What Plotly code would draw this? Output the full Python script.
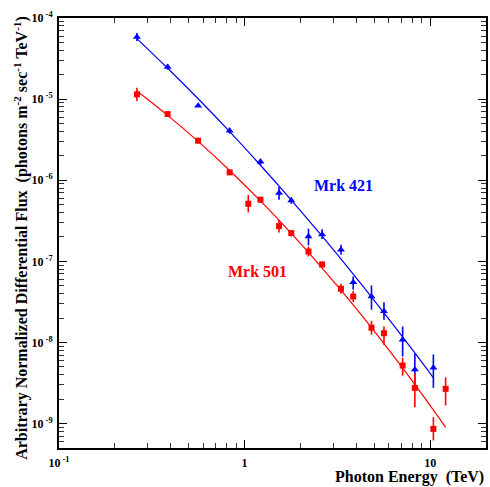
import math
import plotly.graph_objects as go

# ---------------- data ----------------
energy_421 = [0.263, 0.385, 0.562, 0.831, 1.218, 1.534, 1.785, 2.21, 2.617, 3.308,
              3.85, 4.83, 5.64, 7.11, 8.27, 10.41]
flux_421 = [5.83e-5, 2.49e-5, 8.31e-6, 4.08e-6, 1.69e-6, 6.94e-7, 5.64e-7, 2.03e-7,
            2.15e-7, 1.39e-7, 5.54e-8, 3.69e-8, 2.43e-8, 1.08e-8, 4.64e-9, 4.87e-9]
err_up_421 = [0.70e-5, 0.20e-5, 0.3e-6, 0.36e-6, 0.15e-6, 1.29e-7, 0.55e-7, 0.50e-7,
              0.33e-7, 0.21e-7, 0.97e-8, 1.35e-8, 0.71e-8, 0.49e-8, 2.6e-9, 2.24e-9]
err_dn_421 = [0.63e-5, 0.18e-5, 0.3e-6, 0.33e-6, 0.14e-6, 1.19e-7, 0.51e-7, 0.46e-7,
              0.27e-7, 0.18e-7, 1.07e-8, 1.16e-8, 0.53e-8, 0.41e-8, 1.6e-9, 2.11e-9]

energy_501 = [0.263, 0.385, 0.562, 0.831, 1.047, 1.218, 1.534, 1.785, 2.21, 2.617,
              3.308, 3.85, 4.83, 5.64, 7.11, 8.27, 10.41, 12.12]
flux_501 = [1.145e-5, 6.54e-6, 3.07e-6, 1.25e-6, 5.13e-7, 5.75e-7, 2.72e-7, 2.23e-7,
            1.32e-7, 9.15e-8, 4.59e-8, 3.69e-8, 1.52e-8, 1.30e-8, 5.19e-9, 2.76e-9,
            8.6e-10, 2.68e-9]
err_up_501 = [2.4e-6, 0.3e-6, 0.1e-6, 0.05e-6, 1.44e-7, 0.5e-7, 0.53e-7, 0.2e-7,
              0.20e-7, 0.8e-8, 0.70e-8, 0.62e-8, 0.33e-8, 0.27e-8, 1.27e-9, 1.42e-9,
              3.4e-10, 1.05e-9]
err_dn_501 = [2.0e-6, 0.3e-6, 0.1e-6, 0.05e-6, 1.12e-7, 0.5e-7, 0.45e-7, 0.2e-7,
              0.17e-7, 0.7e-8, 0.61e-8, 0.53e-8, 0.27e-8, 0.36e-8, 1.29e-9, 1.17e-9,
              2.4e-10, 1.01e-9]

fit_e_421 = [0.263, 0.385, 0.562, 0.831, 1.218, 1.785, 2.617, 3.85, 5.64, 8.27, 10.41]
fit_f_421 = [5.57e-5, 2.40e-5, 1.01e-5, 3.97e-6, 1.53e-6, 5.70e-7, 2.04e-7, 6.97e-8,
             2.32e-8, 7.43e-9, 3.67e-9]
fit_e_501 = [0.263, 0.385, 0.562, 0.831, 1.218, 1.785, 2.617, 3.85, 5.64, 8.27, 12.12]
fit_f_501 = [1.26e-5, 6.31e-6, 3.01e-6, 1.32e-6, 5.56e-7, 2.21e-7, 8.26e-8, 2.90e-8,
             9.65e-9, 3.04e-9, 9.0e-10]

x_tickvals = [0.1, 1, 10]
x_ticktext = ["10<sup> -1</sup>", "1", "10"]
y_tickvals = [1e-9, 1e-8, 1e-7, 1e-6, 1e-5, 1e-4]
y_ticktext = ["10<sup> -9</sup>", "10<sup> -8</sup>", "10<sup> -7</sup>",
              "10<sup> -6</sup>", "10<sup> -5</sup>", "10<sup> -4</sup>"]

label_421 = ("Mrk 421", 3.43, 8.6e-7)
label_501 = ("Mrk 501", 1.18, 7.5e-8)

BLUE = "#0000ff"
RED = "#ff0000"
FONT = "Liberation Serif"

fig = go.Figure()

fig.add_trace(go.Scatter(x=fit_e_421, y=fit_f_421, mode="lines",
                         line=dict(color=BLUE, width=1.2, shape="spline"),
                         showlegend=False, hoverinfo="skip"))
fig.add_trace(go.Scatter(x=fit_e_501, y=fit_f_501, mode="lines",
                         line=dict(color=RED, width=1.2, shape="spline"),
                         showlegend=False, hoverinfo="skip"))

fig.add_trace(go.Scatter(
    x=energy_421, y=flux_421, mode="markers",
    marker=dict(symbol="triangle-up", size=7, color=BLUE),
    error_y=dict(type="data", symmetric=False, array=err_up_421,
                 arrayminus=err_dn_421, color=BLUE, thickness=1.6, width=0),
    showlegend=False))
fig.add_trace(go.Scatter(
    x=energy_501, y=flux_501, mode="markers",
    marker=dict(symbol="square", size=6, color=RED),
    error_y=dict(type="data", symmetric=False, array=err_up_501,
                 arrayminus=err_dn_501, color=RED, thickness=1.6, width=0),
    showlegend=False))

axis_common = dict(
    type="log", showgrid=False, zeroline=False,
    showline=True, linecolor="black", linewidth=2, mirror="allticks",
    ticks="inside", ticklen=8, tickwidth=1.2, tickcolor="black",
    tickfont=dict(family=FONT, size=12, color="black", weight="bold"),
    minor=dict(ticks="inside", ticklen=5, tickwidth=1, tickcolor="#333333",
               dtick="D1", showgrid=False),
)

fig.update_xaxes(range=[-1, math.log10(20)], tickvals=x_tickvals,
                 ticktext=x_ticktext, ticklabelstandoff=3, **axis_common)
fig.update_yaxes(range=[math.log10(5e-10), -4], tickvals=y_tickvals,
                 ticktext=y_ticktext, ticklabelstandoff=2, **axis_common)

for (txt, ex, fy), col in ((label_421, BLUE), (label_501, RED)):
    fig.add_annotation(x=math.log10(ex), y=math.log10(fy), xref="x", yref="y",
                       text="<b>" + txt + "</b>", showarrow=False,
                       font=dict(family=FONT, size=16, color=col))

fig.add_annotation(
    x=-0.0897, y=0.488, xref="paper", yref="paper", textangle=-90,
    xanchor="center", yanchor="middle",
    text="<b>Arbitrary Normalized Differential Flux\u00a0\u00a0(photons m<sup>-2</sup> sec<sup>-1</sup> TeV<sup>-1</sup>)</b>",
    showarrow=False, font=dict(family=FONT, size=16, color="black"))
fig.add_annotation(
    x=1.0, y=-0.068, xref="paper", yref="paper", xanchor="right", yanchor="middle",
    text="<b>Photon Energy\u00a0\u00a0(TeV)</b>",
    showarrow=False, font=dict(family=FONT, size=16, color="black"))

fig.update_layout(
    width=490, height=487,
    margin=dict(l=59, r=2, t=18, b=39, pad=0),
    paper_bgcolor="white", plot_bgcolor="white",
    font=dict(family=FONT, color="black"),
    showlegend=False,
)

fig.write_html("out.html", config={"displayModeBar": False},
               post_script="document.body.style.margin='0';document.body.style.overflow='hidden';")
